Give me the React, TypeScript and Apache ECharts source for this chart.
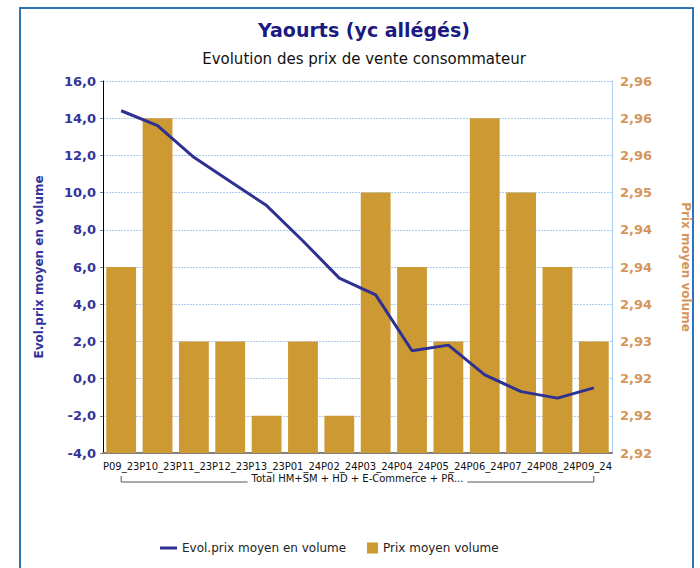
import React, { useEffect, useRef } from "react";
import * as echarts from "echarts";

const CATEGORIES = [
  "P09_23", "P10_23", "P11_23", "P12_23", "P13_23", "P01_24", "P02_24",
  "P03_24", "P04_24", "P05_24", "P06_24", "P07_24", "P08_24", "P09_24",
];
const EVOL_VALUES = [14.4, 13.6, 11.9, 10.6, 9.3, 7.4, 5.4, 4.5, 1.5, 1.8, 0.2, -0.7, -1.05, -0.5];
const PRICE_VALUES = [2.94, 2.96, 2.93, 2.93, 2.92, 2.93, 2.92, 2.95, 2.94, 2.93, 2.96, 2.95, 2.94, 2.93];
const RIGHT_TICK_LABELS = ["2,92", "2,92", "2,92", "2,93", "2,94", "2,94", "2,94", "2,95", "2,96", "2,96", "2,96"];
const GROUP_LABEL = "Total HM+SM + HD + E-Commerce + PR...";
const TITLE = "Yaourts (yc allégés)";
const SUBTITLE = "Evolution des prix de vente consommateur";
const LINE_NAME = "Evol.prix moyen en volume";
const BAR_NAME = "Prix moyen volume";

const FONT = "DejaVu Sans";
const RIGHT_MIN = 2.915;
const RIGHT_STEP = 0.005;

export default function App() {
  const ref = useRef<HTMLDivElement>(null);
  useEffect(() => {
    if (!ref.current) return;
    const chart = echarts.init(ref.current, null, { renderer: "svg" });
    const option: any = {
      animation: false,
      backgroundColor: "#ffffff",
      textStyle: { fontFamily: FONT },
      title: [
        {
          text: TITLE,
          left: 359,
          top: 15,
          textAlign: "center",
          textStyle: { fontFamily: FONT, fontSize: 19, fontWeight: "bold", color: "#1a1a80" },
        },
        {
          text: SUBTITLE,
          left: 359,
          top: 46,
          textAlign: "center",
          textStyle: { fontFamily: FONT, fontSize: 15, fontWeight: "normal", color: "#111" },
        },
      ],
      legend: [
        {
          data: [{ name: LINE_NAME, icon: "rect" }],
          left: 155,
          top: 537,
          itemWidth: 17,
          itemHeight: 3,
          textStyle: { fontFamily: FONT, fontSize: 12, color: "#222" },
        },
        {
          data: [{ name: BAR_NAME, icon: "rect" }],
          left: 362,
          top: 537,
          itemWidth: 11,
          itemHeight: 11,
          textStyle: { fontFamily: FONT, fontSize: 12, color: "#222" },
        },
      ],
      grid: { left: 103, right: 86, top: 81, bottom: 115, containLabel: false },
      xAxis: {
        type: "category",
        data: CATEGORIES,
        axisLine: { onZero: false, lineStyle: { color: "#808080", width: 2 } },
        axisTick: { show: false },
        axisLabel: { interval: 0, fontFamily: FONT, fontSize: 10, color: "#111", margin: 8 },
      },
      yAxis: [
        {
          type: "value",
          min: -4,
          max: 16,
          interval: 2,
          name: LINE_NAME,
          nameLocation: "middle",
          nameGap: 58,
          nameTextStyle: { fontFamily: FONT, fontSize: 12, fontWeight: "bold", color: "#33339a" },
          axisLine: { show: true, lineStyle: { color: "#000", width: 1 } },
          axisTick: { show: true, length: 3, lineStyle: { color: "#888" } },
          axisLabel: {
            fontFamily: FONT,
            fontSize: 13,
            fontWeight: "bold",
            color: "#33339a",
            margin: 7,
            formatter: (v: number) => v.toFixed(1).replace(".", ","),
          },
          splitLine: { show: true, lineStyle: { color: "#a9ccf0", type: [2, 1], width: 1 } },
        },
        {
          type: "value",
          position: "right",
          min: RIGHT_MIN,
          max: 2.965,
          interval: RIGHT_STEP,
          name: BAR_NAME,
          nameLocation: "middle",
          nameRotate: -90,
          nameGap: 68,
          nameTextStyle: { fontFamily: FONT, fontSize: 12, fontWeight: "bold", color: "#d4965c" },
          axisLine: { show: true, lineStyle: { color: "#a9ccf0", width: 1 } },
          axisTick: { show: false },
          axisLabel: {
            fontFamily: FONT,
            fontSize: 13,
            fontWeight: "bold",
            color: "#d4965c",
            margin: 8,
            formatter: (v: number) => {
              const i = Math.round((v - RIGHT_MIN) / RIGHT_STEP);
              return RIGHT_TICK_LABELS[i] ?? "";
            },
          },
          splitLine: { show: false },
        },
      ],
      series: [
        {
          name: BAR_NAME,
          type: "bar",
          yAxisIndex: 1,
          data: PRICE_VALUES,
          barCategoryGap: "18%",
          itemStyle: { color: "#cc9933" },
          z: 2,
        },
        {
          name: LINE_NAME,
          type: "line",
          yAxisIndex: 0,
          data: EVOL_VALUES,
          symbol: "none",
          lineStyle: { color: "#2e3192", width: 3 },
          itemStyle: { color: "#2e3192" },
          z: 3,
        },
      ],
    };
    chart.setOption(option);

    const p0 = chart.convertToPixel({ xAxisIndex: 0 }, CATEGORIES[0]) as number;
    const p1 = chart.convertToPixel({ xAxisIndex: 0 }, CATEGORIES[CATEGORIES.length - 1]) as number;
    const by = 482;
    chart.setOption({
      graphic: [
        {
          type: "rect",
          shape: { x: 20, y: 8, width: 673, height: 600 },
          style: { fill: "none", stroke: "#2e75b6", lineWidth: 2 },
          silent: true,
        },
        {
          type: "polyline",
          shape: { points: [[p0, by - 6], [p0, by], [p1, by], [p1, by - 6]] },
          style: { fill: "none", stroke: "#555", lineWidth: 1 },
          silent: true,
        },
        {
          type: "text",
          x: (p0 + p1) / 2,
          y: by - 4,
          style: {
            text: GROUP_LABEL,
            fontFamily: FONT,
            fontSize: 10,
            fill: "#111",
            align: "center",
            verticalAlign: "middle",
            backgroundColor: "#fff",
            padding: [0, 4],
          },
          silent: true,
        },
      ],
    });
    return () => chart.dispose();
  }, []);
  return (
    <div
      ref={ref}
      style={{ position: "fixed", left: 0, top: 0, width: 700, height: 568 }}
    />
  );
}
